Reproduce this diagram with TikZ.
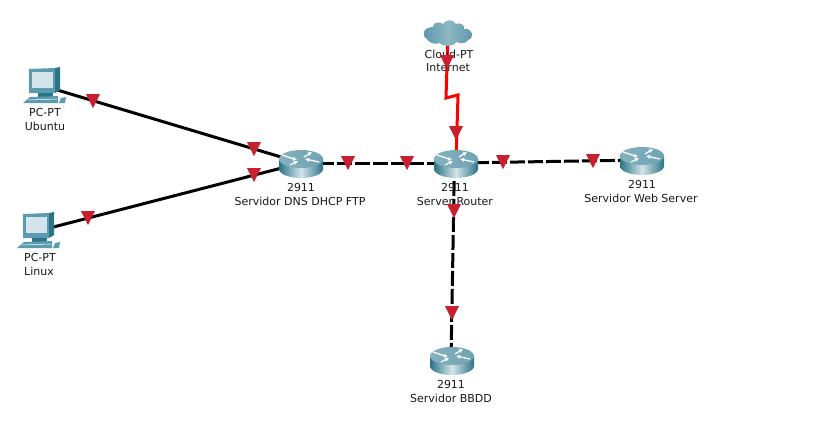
\documentclass[tikz,border=0pt]{standalone}
\usepackage{fontspec}
\setmainfont{DejaVu Sans}
\usetikzlibrary{shapes.geometric,arrows.meta}
\definecolor{linkred}{HTML}{C9202F}
\definecolor{tealdark}{HTML}{2A7486}
\definecolor{tealmid}{HTML}{6FA3B4}
\definecolor{tealpc}{HTML}{5C9BAF}
\definecolor{teallight}{HTML}{D3E4EA}
\definecolor{cloudedge}{HTML}{5A95AA}
\definecolor{cloudmid}{HTML}{8DB8C4}
\tikzset{
  lbl/.style={font=\fontsize{11}{13}\selectfont,inner sep=0pt,text=black!90},
  ethlink/.style={line width=3pt,black},
  crosslink/.style={ethlink,dash pattern=on 15pt off 3pt},
  seriallink/.style={line width=3pt,red},
  linkmark/.style={isosceles triangle,isosceles triangle apex angle=60,isosceles triangle stretches,
    shape border rotate=-90,fill=linkred,inner sep=0pt,minimum height=14pt,minimum width=14pt,draw=none},
  pics/router/.style={code={
    \shade[left color=tealdark,right color=tealdark,middle color=teallight]
      (-22,-4) -- (-22,6) arc[start angle=180,end angle=0,x radius=22,y radius=9] -- (22,-4) -- cycle;
    \shade[left color=tealmid!85!white,right color=tealmid] (0,-4) ellipse[x radius=22,y radius=9];
    \begin{scope}[white,line width=1.3pt,-{Latex[length=4pt,width=4.5pt]}]
      \draw (-19,-8) -- (-4,-3);
      \draw (3,-6) -- (11,-11);
      \draw (18,-1) -- (4,-4);
      \draw (-11,2) -- (-3,-2);
    \end{scope}
  }},
  pics/pc/.style={code={
    \fill[tealpc] (-15,-17) -- (11,-18) -- (11,7) -- (-15,7) -- cycle;
    \fill[tealdark] (11,-18) -- (16,-19) -- (16,4) -- (11,7) -- cycle;
    \fill[teallight] (-12,-14) -- (9,-14) -- (9,2) -- (-12,2) -- cycle;
    \fill[tealdark] (-6,7) -- (9,7) -- (9,11) -- (-6,11) -- cycle;
    \fill[tealpc] (-14,11) -- (14,10) -- (14,17) -- (-21,17) -- cycle;
    \draw[white,line width=0.5pt] (-16,14) -- (13,13);
    \fill[tealpc] (17,12) -- (22,11) -- (21,17) -- (15,17) -- cycle;
  }},
  pics/cloud/.style={code={
    \shade[left color=cloudedge,right color=cloudedge,middle color=cloudmid]
      (-21,6) .. controls (-27,3) and (-25,-6) .. (-15,-6)
      .. controls (-15,-11) and (-8,-12) .. (-5,-9)
      .. controls (-2,-14) and (5,-14) .. (8,-9)
      .. controls (12,-11) and (17,-8) .. (16,-4)
      .. controls (25,-5) and (27,5) .. (20,7)
      .. controls (18,11) and (12,11) .. (9,9)
      .. controls (5,14) and (-5,14) .. (-9,10)
      .. controls (-13,12) and (-19,10) .. (-21,6) -- cycle;
  }}
}
\begin{document}
\begin{tikzpicture}[x=1pt,y=-1pt]
\useasboundingbox (0,0) rectangle (828,437);
\coordinate (ubuntu) at (44,86);
\coordinate (linux) at (38,231);
\coordinate (cloud) at (448,33);
\coordinate (dns) at (301,163);
\coordinate (srv) at (456,163);
\coordinate (srvdown) at (454.5,163);
\coordinate (web) at (642,160);
\coordinate (bbdd) at (451,360);
\coordinate (kink1) at (446,98);
\coordinate (kink2) at (458,95);
% links
\draw[ethlink] (ubuntu) -- (dns);
\draw[ethlink] (linux) -- (dns);
\draw[crosslink] (dns) -- (srv);
\draw[crosslink] (srv) -- (web);
\draw[crosslink] (srvdown) -- (bbdd);
\draw[seriallink] (cloud) -- (kink1) -- (kink2) -- (srv);
% devices
\pic at (ubuntu) {pc};
\pic at (linux) {pc};
\pic at (cloud) {cloud};
\pic at (dns) {router};
\pic at (srv) {router};
\pic at (web) {router};
\pic at (452,360) {router};
% labels
\foreach \n/\x/\y/\t in {a/45/112/PC-PT,b/45/126/Ubuntu,c/40/257/PC-PT,d/39/271/Linux,
  e/449/54/Cloud-PT,f/448/68/Internet,g/301/187/2911,h/300/201/Servidor DNS DHCP FTP,
  i/455/187/2911,j/455/201/Server Router,k/642/184/2911,l/641/198/Servidor Web Server,
  m/451/384/2911,o/451/398/Servidor BBDD} {
  \node[lbl] (L\n) at (\x,\y) {\t};
}
% link lights
\foreach \n/\x/\y in {1/93/98.5,2/254/146.5,3/254/172.5,4/88/215.5,5/348/160.5,6/407/160.5,
  7/503/159.5,8/593/158.5,9/447/59.5,10/456/130.5,11/454/208.5,12/452/310.5} {
  \node[linkmark] (M\n) at (\x,\y) {};
}
\end{tikzpicture}
\end{document}
